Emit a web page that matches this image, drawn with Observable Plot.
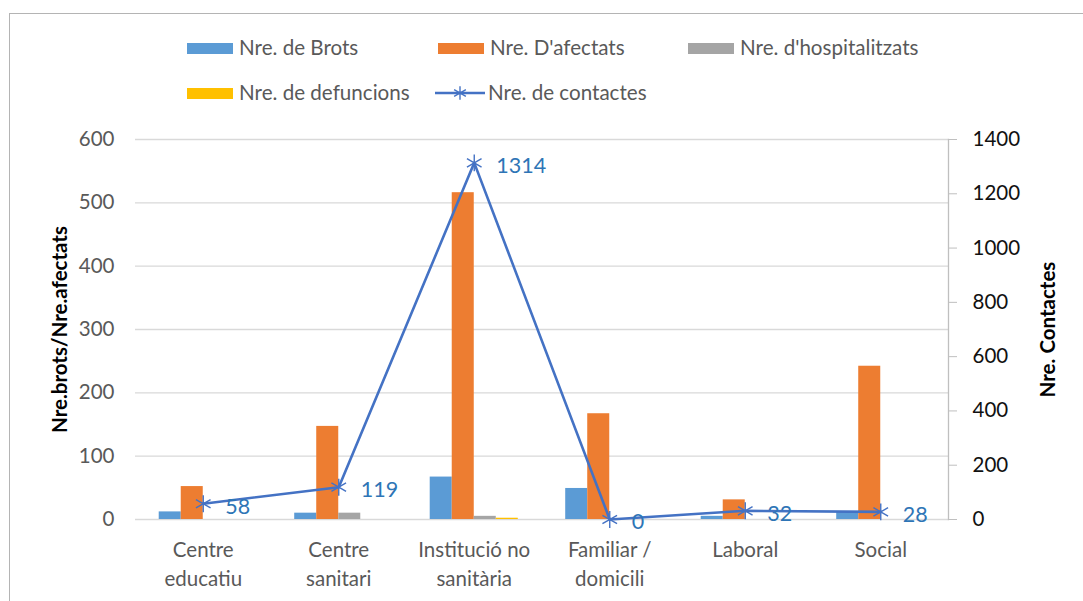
<!DOCTYPE html>
<html><head><meta charset="utf-8">
<script src="https://cdn.jsdelivr.net/npm/d3@7"></script>
<script src="https://cdn.jsdelivr.net/npm/@observablehq/plot@0.6"></script>
<style>
body{margin:0;overflow:hidden;background:#fff;font-family:Lato,"Open Sans",sans-serif;}
#wrap{position:relative;width:1083px;height:601px;overflow:hidden;}
#border{position:absolute;left:9px;top:13px;width:1200px;height:700px;border:1px solid #b4b4b4;}
#chart{position:absolute;left:0;top:0;}
.lg{position:absolute;font-size:20.6px;color:#595959;white-space:nowrap;line-height:20px;}
.sw{position:absolute;width:46px;height:11px;}
</style></head>
<body><div id="wrap"><div id="border"></div><div id="chart"></div><div id="legend"></div></div>
<script>
const categories = ["Centre\neducatiu", "Centre\nsanitari", "Institució no\nsanitària", "Familiar /\ndomicili", "Laboral", "Social"];
const seriesNames = ["Nre. de Brots", "Nre. D'afectats", "Nre. d'hospitalitzats", "Nre. de defuncions"];
const lineName = "Nre. de contactes";
const brots = [12, 10, 67, 49, 5, 11];
const afectats = [52, 147, 516, 167, 31, 242];
const hospitalitzats = [0, 10, 5, 0, 0, 0];
const defuncions = [0, 0, 2, 0, 0, 0];
const contactes = [58, 119, 1314, 0, 32, 28];
const leftTicks = [0, 100, 200, 300, 400, 500, 600];
const rightTicks = [0, 200, 400, 600, 800, 1000, 1200, 1400];
const colors = ["#5b9bd5", "#ed7d31", "#a5a5a5", "#ffc000"];
const lineColor = "#4472c4";

const leftMax = 600, rightMax = 1400, k = leftMax / rightMax;
const bw = 0.1625, groupStart = -0.325;
const seriesVals = [brots, afectats, hospitalitzats, defuncions];
const bars = [];
categories.forEach((c, i) => seriesVals.forEach((vals, s) => {
  bars.push({i, s, name: seriesNames[s], value: vals[i]});
}));
const pts = categories.map((c, i) => ({i, value: contactes[i]}));

const plot = Plot.plot({
  width: 1083, height: 601,
  marginTop: 139, marginBottom: 82, marginLeft: 135, marginRight: 135,
  style: {fontFamily: "Lato, 'Open Sans', sans-serif", fontSize: "20px", background: "transparent"},
  x: {domain: [-0.5, categories.length - 0.5]},
  y: {domain: [0, leftMax]},
  color: {domain: seriesNames, range: colors},
  marks: [
    Plot.gridY(leftTicks, {stroke: "#d9d9d9", strokeOpacity: 1, strokeWidth: 1.3}),
    Plot.axisY({ticks: leftTicks, tickSize: 0, tickPadding: 21, fill: "#595959", fontSize: 20.5,
      label: "Nre.brots/Nre.afectats", labelAnchor: "center", labelArrow: "none", labelOffset: 83}),
    Plot.axisY({anchor: "right", ticks: rightTicks.map(v => v * k), tickFormat: v => String(Math.round(v / k)),
      tickSize: 8, tickPadding: 16, stroke: "#bfbfbf", fill: "#111", fontSize: 20.5,
      label: "Nre. Contactes", labelAnchor: "center", labelArrow: "none", labelOffset: 106}),
    Plot.frame({anchor: "right", stroke: "#bfbfbf", strokeWidth: 1.3}),
    Plot.axisX({ticks: categories.map((c, i) => i), tickFormat: i => categories[i], tickSize: 0, tickPadding: 18,
      fill: "#595959", fontSize: 20.5, lineHeight: 1.37, label: null}),
    Plot.rectY(bars, {x1: d => d.i + groupStart + d.s * bw, x2: d => d.i + groupStart + (d.s + 1) * bw,
      y1: 0, y2: "value", fill: "name"}),
    Plot.line(pts, {x: "i", y: d => d.value * k, stroke: lineColor, strokeWidth: 2.6}),
    Plot.dot(pts, {x: "i", y: d => d.value * k, symbol: "asterisk", r: 8, stroke: lineColor, strokeWidth: 1.4}),
    Plot.text(pts, {x: "i", y: d => d.value * k, text: d => String(d.value), dx: 22, dy: 3, textAnchor: "start",
      fill: "#2e75b6", fontSize: 21.5})
  ]
});
plot.querySelectorAll('[aria-label="y-axis label"] text, [aria-label="y-axis label"]').forEach(e => {
  e.setAttribute("font-weight", "bold"); e.setAttribute("fill", "#000");
});
document.getElementById("chart").appendChild(plot);

// Legend
const legend = document.getElementById("legend");
const items = [
  {name: seriesNames[0], color: colors[0], x: 187, y: 48},
  {name: seriesNames[1], color: colors[1], x: 438, y: 48},
  {name: seriesNames[2], color: colors[2], x: 688, y: 48},
  {name: seriesNames[3], color: colors[3], x: 187, y: 93},
  {name: lineName, color: lineColor, x: 435, y: 93, line: true}
];
items.forEach(it => {
  if (it.line) {
    const s = document.createElementNS("http://www.w3.org/2000/svg", "svg");
    s.setAttribute("width", 50); s.setAttribute("height", 16);
    s.style.position = "absolute"; s.style.left = it.x + "px"; s.style.top = (it.y - 8) + "px";
    s.innerHTML = `<line x1="0" x2="50" y1="8" y2="8" stroke="${it.color}" stroke-width="2.6"/>` +
      `<path transform="translate(25,8)" d="${d3.symbol(d3.symbolAsterisk, 130)()}" stroke="${it.color}" stroke-width="1.4" fill="none"/>`;
    legend.appendChild(s);
  } else {
    const sw = document.createElement("div");
    sw.className = "sw"; sw.style.left = it.x + "px"; sw.style.top = (it.y - 5) + "px"; sw.style.background = it.color;
    legend.appendChild(sw);
  }
  const t = document.createElement("div");
  t.className = "lg"; t.textContent = it.name;
  t.style.left = (it.x + (it.line ? 53 : 52)) + "px"; t.style.top = (it.y - 11) + "px";
  legend.appendChild(t);
});
</script></body></html>
